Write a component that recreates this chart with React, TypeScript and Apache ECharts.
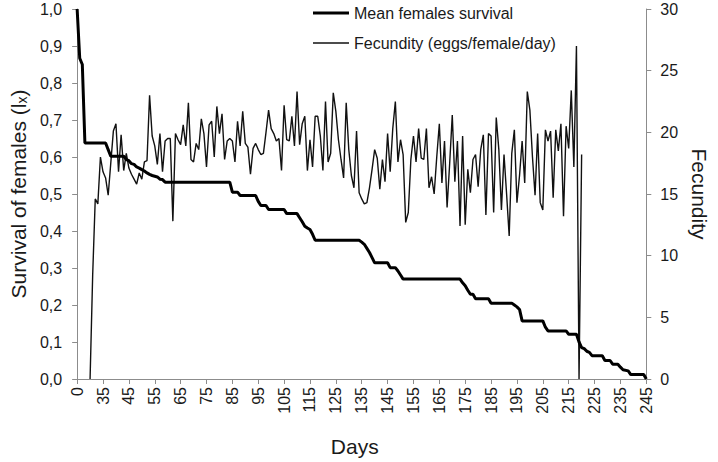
import React, { useEffect, useRef } from "react";
import * as echarts from "echarts";

// x axis: day index (0 = day 0, then daily from day 26 to day 245)
const xTickLabels = ["0", "35", "45", "55", "65", "75", "85", "95", "105", "115", "125", "135", "145", "155", "165", "175", "185", "195", "205", "215", "225", "235", "245"];
const leftTickLabels = ["0,0", "0,1", "0,2", "0,3", "0,4", "0,5", "0,6", "0,7", "0,8", "0,9", "1,0"];

// Fecundity (eggs/female/day), starting at day index 5
const fecundityStart = 5;
const fecundity = [
  0, 8.4, 14.6, 14.2, 18.0, 16.8, 16.3, 14.9, 17.5, 20.1,
  20.7, 16.8, 19.8, 16.9, 18.3, 17.1, 16.6, 16.2, 15.8, 16.7,
  16.2, 17.6, 17.7, 23.0, 19.7, 18.9, 17.4, 19.9, 16.8, 19.3,
  19.5, 19.5, 12.8, 19.9, 19.4, 19.0, 20.6, 18.9, 22.4, 17.8,
  17.6, 19.1, 18.6, 21.1, 19.9, 17.2, 20.6, 20.9, 18.0, 22.1,
  19.9, 21.5, 17.8, 19.3, 19.5, 19.3, 17.6, 20.9, 18.9, 21.7,
  19.1, 18.8, 16.6, 18.7, 19.1, 18.6, 18.2, 18.3, 20.0, 21.8,
  20.3, 19.9, 19.3, 19.5, 16.9, 22.2, 19.4, 19.3, 21.3, 18.9,
  23.3, 19.0, 20.7, 21.3, 16.9, 19.4, 17.2, 21.3, 21.3, 19.7,
  16.9, 22.5, 17.6, 18.3, 23.2, 21.7, 19.4, 17.8, 16.3, 22.4,
  18.6, 16.5, 15.5, 20.1, 15.1, 14.6, 14.2, 14.3, 15.5, 17.0,
  18.6, 17.9, 15.4, 17.8, 16.0, 19.9, 16.8, 20.3, 22.5, 17.6,
  19.4, 18.2, 12.7, 13.5, 17.8, 19.7, 17.6, 20.3, 17.9, 17.8,
  20.3, 15.5, 16.4, 15.0, 18.0, 20.7, 15.9, 19.3, 13.9, 17.5,
  21.4, 16.0, 19.3, 12.4, 19.7, 12.5, 17.0, 15.1, 17.8, 18.2,
  15.6, 18.6, 19.8, 13.3, 19.9, 19.7, 13.5, 21.2, 18.6, 13.7,
  18.2, 15.0, 11.6, 18.3, 20.2, 14.3, 16.5, 19.3, 15.9, 23.3,
  21.8, 18.0, 14.9, 19.9, 14.3, 13.7, 20.2, 19.3, 20.1, 14.7,
  20.2, 18.5, 20.7, 13.2, 20.5, 18.7, 23.4, 17.2, 27.0, 0,
  18.2,
];

// Mean females survival (lx): day index and value at each change
const survivalIdx = [
  0, 1, 2, 3, 11, 12, 13, 18, 19, 20, 21, 22, 23, 24, 25, 26, 27, 28, 29, 30, 31, 32, 33, 34,
  59, 60, 62, 63, 69, 70, 71, 73, 74, 80, 81, 85, 86, 87, 88, 89, 90, 91, 92,
  109, 110, 111, 112, 113, 114, 115, 120, 121, 123, 124, 125, 126,
  148, 149, 150, 151, 152, 153, 154, 159, 160, 168, 169, 170, 171, 172, 180, 181, 182,
  189, 190, 193, 194, 195, 196, 197, 198, 199, 203, 204, 206, 207, 209, 210, 211, 213, 214, 219, 220,
];
const survivalVal = [
  1.0, 0.867, 0.85, 0.638, 0.638, 0.62, 0.602, 0.602, 0.593, 0.59, 0.582, 0.58, 0.573, 0.57, 0.566, 0.562, 0.557, 0.553, 0.55, 0.548, 0.546, 0.54, 0.539, 0.532,
  0.532, 0.505, 0.505, 0.496, 0.496, 0.48, 0.469, 0.469, 0.458, 0.458, 0.447, 0.447, 0.436, 0.425, 0.413, 0.408, 0.404, 0.391, 0.375,
  0.375, 0.37, 0.364, 0.353, 0.342, 0.328, 0.314, 0.314, 0.301, 0.301, 0.292, 0.281, 0.27,
  0.27, 0.26, 0.252, 0.24, 0.229, 0.229, 0.217, 0.217, 0.205, 0.205, 0.2, 0.195, 0.188, 0.157, 0.157, 0.14, 0.13,
  0.13, 0.121, 0.121, 0.1, 0.085, 0.082, 0.075, 0.072, 0.063, 0.063, 0.05, 0.05, 0.04, 0.04, 0.032, 0.025, 0.022, 0.012, 0.012, 0.0,
];

const FONT = "'Liberation Sans', Arial, sans-serif";
const TEXT = "#1a1a1a";
const AXIS = "#8c8c8c";

export default function App() {
  const ref = useRef<HTMLDivElement>(null);
  useEffect(() => {
    document.body.style.margin = "0";
    const chart = echarts.init(ref.current!, null, { renderer: "svg" });
    const axisCommon = {
      axisLine: { show: true, lineStyle: { color: AXIS, width: 1 } },
      axisTick: { show: true, length: 5, lineStyle: { color: AXIS } },
      splitLine: { show: false },
    };
    chart.setOption({
      animation: false,
      textStyle: { fontFamily: FONT },
      grid: { left: 73, right: 60, top: 9, bottom: 82 },
      legend: [
        {
          data: ["Mean females survival"],
          left: 308,
          top: 0,
          icon: "rect",
          itemWidth: 36,
          itemHeight: 3,
          selectedMode: false,
          textStyle: { fontSize: 16, color: TEXT, fontFamily: FONT },
        },
        {
          data: ["Fecundity (eggs/female/day)"],
          left: 308,
          top: 30,
          icon: "rect",
          itemWidth: 36,
          itemHeight: 1.5,
          selectedMode: false,
          textStyle: { fontSize: 16, color: TEXT, fontFamily: FONT },
        },
      ],
      xAxis: {
        type: "value",
        min: 0,
        max: 220,
        interval: 10,
        ...axisCommon,
        axisLabel: {
          rotate: 90,
          fontSize: 16,
          color: TEXT,
          fontFamily: FONT,
          margin: 8,
          formatter: (v: number) => xTickLabels[Math.round(v / 10)] ?? "",
        },
        name: "Days",
        nameLocation: "middle",
        nameGap: 57,
        nameTextStyle: { fontSize: 21, color: TEXT, fontFamily: FONT, padding: [0, 14, 0, 0] },
      },
      yAxis: [
        {
          type: "value",
          min: 0,
          max: 1,
          interval: 0.1,
          position: "left",
          ...axisCommon,
          axisLabel: {
            fontSize: 16,
            color: TEXT,
            fontFamily: FONT,
            margin: 15,
            formatter: (v: number) => leftTickLabels[Math.round(v * 10)] ?? "",
          },
          name: "Survival of females (l{sub|x})",
          nameLocation: "middle",
          nameRotate: 90,
          nameGap: 48,
          nameTextStyle: {
            fontSize: 21,
            color: TEXT,
            fontFamily: FONT,
            rich: { sub: { fontSize: 14, color: TEXT, fontFamily: FONT, verticalAlign: "bottom", padding: [6, 0, 0, 0] } },
          },
        },
        {
          type: "value",
          min: 0,
          max: 30,
          interval: 5,
          position: "right",
          ...axisCommon,
          axisLabel: { fontSize: 16, color: TEXT, fontFamily: FONT, margin: 14 },
          name: "Fecundity",
          nameLocation: "middle",
          nameRotate: -90,
          nameGap: 42,
          nameTextStyle: { fontSize: 21, color: TEXT, fontFamily: FONT },
        },
      ],
      series: [
        {
          name: "Mean females survival",
          type: "line",
          yAxisIndex: 0,
          symbol: "none",
          color: "#000",
          lineStyle: { color: "#000", width: 3 },
          z: 3,
          data: survivalIdx.map((x, k) => [x, survivalVal[k]]),
        },
        {
          name: "Fecundity (eggs/female/day)",
          type: "line",
          yAxisIndex: 1,
          symbol: "none",
          color: "#111",
          lineStyle: { color: "#111", width: 1.4 },
          z: 2,
          data: fecundity.map((v, k) => [k + fecundityStart, v]),
        },
      ],
    });
    return () => chart.dispose();
  }, []);
  return <div ref={ref} style={{ width: 718, height: 462 }} />;
}
